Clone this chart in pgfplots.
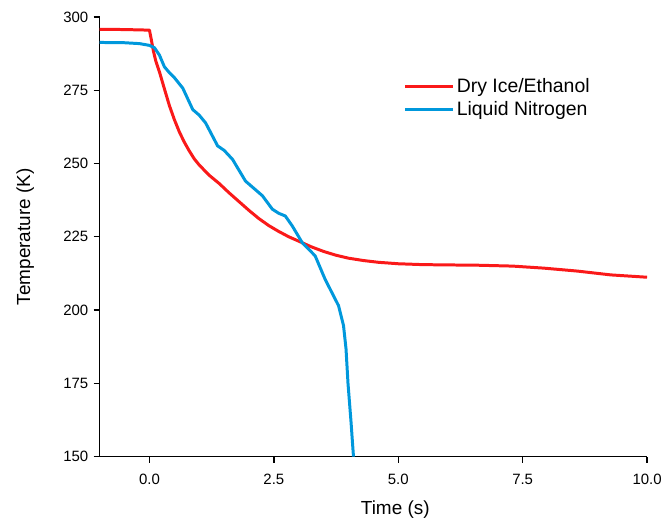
\documentclass[border=0pt]{standalone}
\usepackage{fontspec}
\setmainfont{Liberation Sans}
\usepackage{pgfplots}
\pgfplotsset{compat=1.18}

\definecolor{dryred}{RGB}{250,25,25}
\definecolor{ln2blue}{RGB}{0,152,220}

\begin{document}
\begin{tikzpicture}
\path[use as bounding box] (-100bp,-69bp) rectangle (568bp,458bp);
\begin{axis}[
    scale only axis, width=549bp, height=441bp,
    xmin=-1, xmax=10, ymin=150, ymax=300,
    axis lines=left, axis line style={-, line width=1.4bp},
    tick align=outside, major tick length=6bp,
    tick style={line width=1.4bp, black},
    xtick={0,2.5,5,7.5,10}, ytick={150,175,...,300},
    xticklabel style={yshift=-8bp, /pgf/number format/.cd, fixed, fixed zerofill, precision=1},
    yticklabel style={xshift=-2bp},
    /pgf/number format/assume math mode=true,
    ticklabel style={font=\fontsize{15bp}{18bp}\selectfont},
    label style={font=\fontsize{19bp}{22bp}\selectfont},
    xlabel={Time (s)}, ylabel={Temperature (K)},
    xlabel style={at={(axis description cs:0.54,-0.12)}, anchor=center},
    ylabel style={at={(axis description cs:-0.136,0.5)}, anchor=center},
    legend style={at={(0.55,0.87)}, anchor=north west, draw=none, fill=none,
        font=\fontsize{19.5bp}{22bp}\selectfont, row sep=4bp},
    legend cell align=left,
    legend image code/.code={\draw[#1] (0bp,0bp) -- (48bp,0bp);},
]
% dry ice / ethanol bath
\addplot[dryred, line width=3bp, line join=round] coordinates {
(-1,295.8) (-0.5,295.7) (0.0,295.5) (0.04,292) (0.08,288.3) (0.13,284.8)
(0.2,281.3) (0.3,275.5) (0.4,269.8) (0.5,265) (0.6,260.8) (0.7,257.3)
(0.8,254.3) (0.9,251.6) (1.0,249.5) (1.2,246) (1.4,243.2) (1.6,240)
(1.8,237) (2.0,234) (2.2,231.2) (2.4,228.8) (2.6,226.8) (2.8,225)
(3.0,223.5) (3.25,221.6) (3.5,220) (3.75,218.7) (4.0,217.7) (4.3,216.9)
(4.6,216.3) (5.0,215.8) (5.5,215.5) (6.0,215.4) (6.6,215.3) (7.3,215)
(7.93,214.3) (8.6,213.3) (9.27,212) (10,211.2)
};
\addlegendentry{Dry Ice/Ethanol}
% liquid nitrogen
\addplot[ln2blue, line width=3bp, line join=round] coordinates {
(-1,291.3) (-0.5,291.2) (-0.2,290.9) (0.0,290.3) (0.1,289.5) (0.2,287)
(0.3,283) (0.4,281) (0.5,279.3) (0.67,275.7) (0.87,268.4) (1.0,266.5)
(1.13,263.8) (1.37,256) (1.5,254.5) (1.67,251.4) (1.93,244) (2.1,241.5)
(2.27,239) (2.47,234.4) (2.6,233) (2.73,232.1) (2.87,228.7) (3.07,223)
(3.33,218.5) (3.53,210.5) (3.8,201.5) (3.9,194.7) (3.95,186.8) (3.99,175)
(4.05,162) (4.1,150)
};
\addlegendentry{Liquid Nitrogen}
\end{axis}
\end{tikzpicture}
\end{document}
